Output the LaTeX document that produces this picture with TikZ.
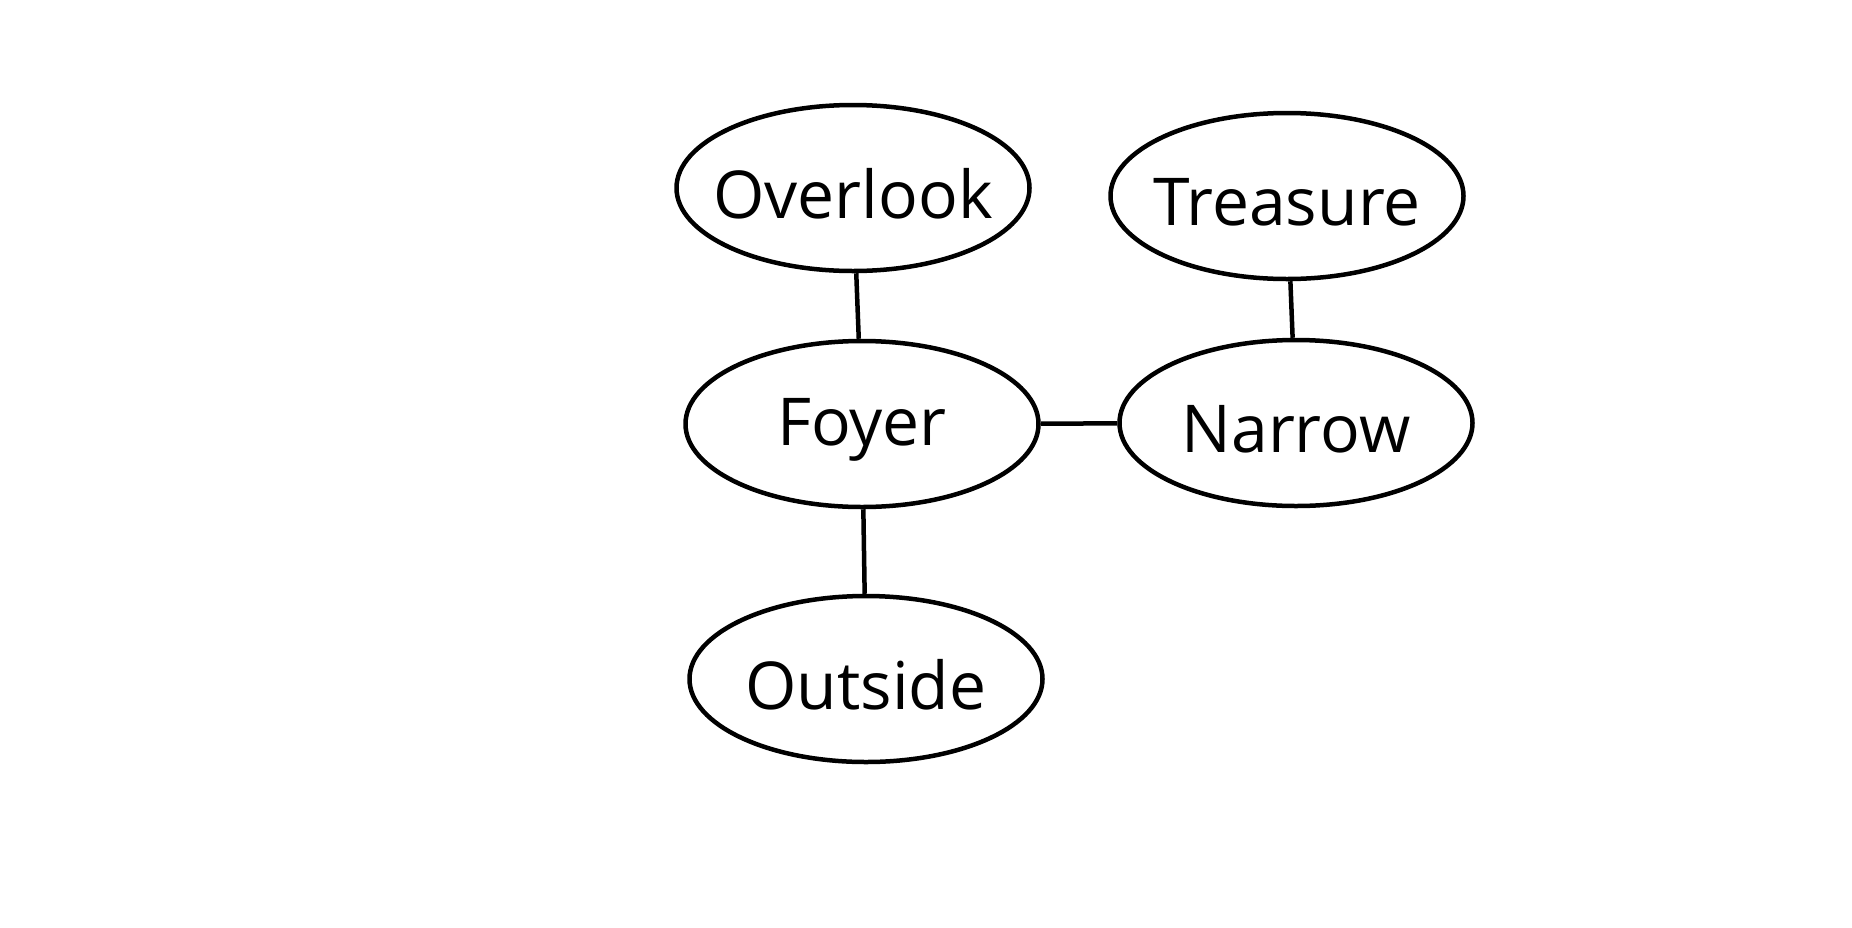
\documentclass[tikz,border=0pt]{standalone}
\usepackage{fontspec}
\setmainfont{Open Sans}
\usetikzlibrary{shapes.geometric}
\begin{document}
\begin{tikzpicture}[x=1pt,y=-1pt,
  room/.style={draw=black,line width=4.5pt,ellipse,minimum width=353pt,minimum height=166pt,inner sep=0pt,
    label={[font=\fontsize{66}{70}\selectfont,inner sep=0pt,yshift=-6pt]center:#1}},
  link/.style={draw=black,line width=4.5pt}]
\useasboundingbox (0,0) rectangle (1852,927);
\node[room=Overlook] (ov) at (853,188) {};
\node[room=Treasure] (tr) at (1287,196) {};
\node[room=Foyer] (fo) at (862,424) {};
\node[room=Narrow] (na) at (1296,423) {};
\node[room=Outside] (ou) at (866,679) {};
\draw[link] (ov) -- (fo);
\draw[link] (fo) -- (na);
\draw[link] (tr) -- (na);
\draw[link] (fo) -- (ou);
\end{tikzpicture}
\end{document}
